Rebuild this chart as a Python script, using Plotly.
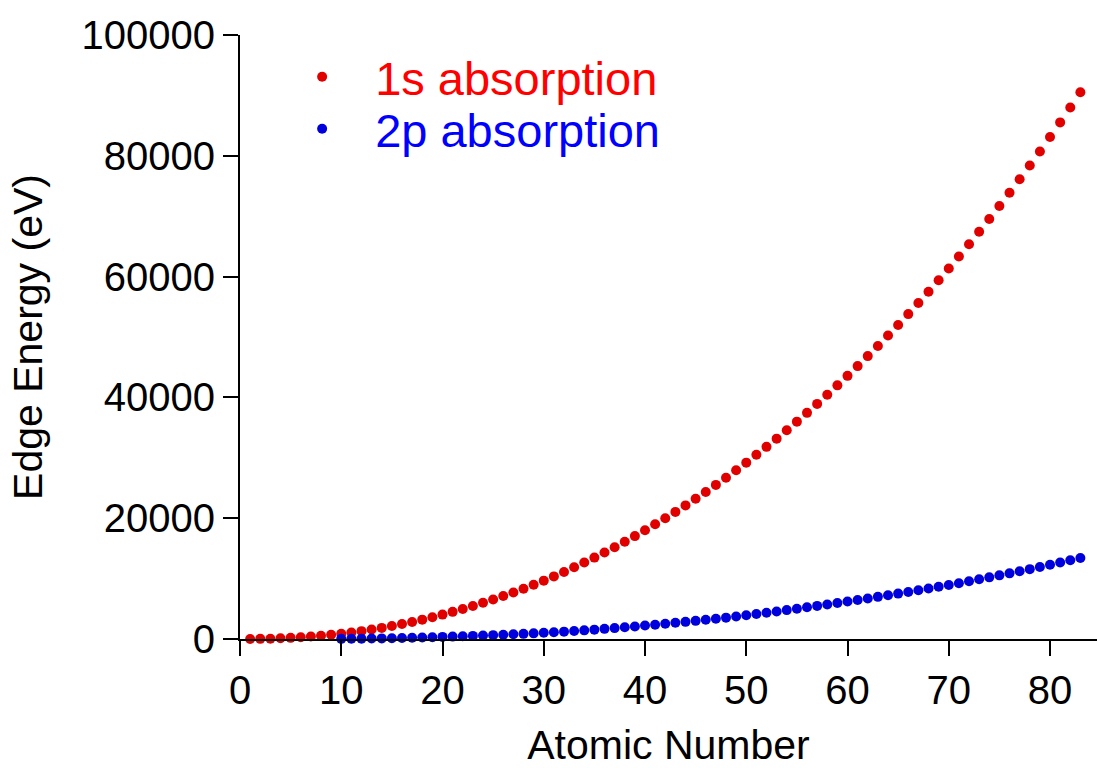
import plotly.graph_objects as go

# K-shell (1s) absorption edge energies, Z = 1 .. 83 (eV)
z_1s = list(range(1, 84))
e_1s = [
    13.6, 24.6, 54.7, 111.5, 188, 284.2, 409.9, 543.1, 696.7, 870.2,
    1070.8, 1303.0, 1559.6, 1839, 2145.5, 2472, 2822.4, 3205.9, 3608.4, 4038.5,
    4492, 4966, 5465, 5989, 6539, 7112, 7709, 8333, 8979, 9659,
    10367, 11103, 11867, 12658, 13474, 14326, 15200, 16105, 17038, 17998,
    18986, 20000, 21044, 22117, 23220, 24350, 25514, 26711, 27940, 29200,
    30491, 31814, 33169, 34561, 35985, 37441, 38925, 40443, 41991, 43569,
    45184, 46834, 48519, 50239, 51996, 53789, 55618, 57486, 59390, 61332,
    63314, 65351, 67416, 69525, 71676, 73871, 76111, 78395, 80725, 83102,
    85530, 88005, 90526,
]

# L3-shell (2p) absorption edge energies, Z = 10 .. 83 (eV)
z_2p = list(range(10, 84))
e_2p = [
    21.6, 30.65, 49.78, 72.55, 99.42, 135, 162.5, 200, 248.4, 294.6,
    346.2, 398.7, 453.8, 512.1, 574.1, 638.7, 706.8, 778.1, 852.7, 932.7,
    1021.8, 1116.4, 1217, 1323.6, 1433.9, 1550, 1678.4, 1804, 1940, 2080,
    2222.3, 2370.5, 2520.2, 2677, 2837.9, 3004, 3173.3, 3351.1, 3537.5, 3730.1,
    3928.8, 4132.2, 4341.4, 4557.1, 4786.4, 5012, 5247, 5483, 5723, 5964,
    6208, 6459, 6716, 6977, 7243, 7514, 7790, 8071, 8358, 8648,
    8944, 9244, 9561, 9881, 10207, 10535, 10871, 11215, 11564, 11919,
    12284, 12658, 13035, 13419,
]

x_ticks = [0, 10, 20, 30, 40, 50, 60, 70, 80]
y_ticks = [0, 20000, 40000, 60000, 80000, 100000]
y_tick_labels = ["0", "20000", "40000", "60000", "80000", "100000"]

FONT = "Liberation Sans, Arial, sans-serif"

fig = go.Figure()
fig.add_trace(go.Scatter(
    x=z_1s, y=e_1s, mode="markers", name="1s absorption",
    marker=dict(size=10, color="#E00000"), cliponaxis=False,
    legend="legend",
))
fig.add_trace(go.Scatter(
    x=z_2p, y=e_2p, mode="markers", name="2p absorption",
    marker=dict(size=10, color="#0000DD"), cliponaxis=False,
    legend="legend2",
))

axis_common = dict(
    showline=True, linecolor="black", linewidth=2,
    ticks="outside", ticklen=15, tickwidth=2, tickcolor="black",
    showgrid=False, zeroline=False,
    tickfont=dict(family=FONT, size=40, color="black"),
)

fig.update_layout(
    width=1097, height=768,
    margin=dict(l=240, r=0, t=35, b=129),
    paper_bgcolor="white", plot_bgcolor="white",
    font=dict(family=FONT, color="black"),
    xaxis=dict(
        range=[0, 84.64], tickvals=x_ticks,
        title=dict(text="Atomic Number", font=dict(family=FONT, size=41), standoff=25),
        **axis_common,
    ),
    yaxis=dict(
        range=[0, 100000], tickvals=y_ticks, ticktext=y_tick_labels,
        title=dict(text="Edge Energy (eV)", font=dict(family=FONT, size=41), standoff=26),
        **axis_common,
    ),
    legend=dict(
        x=0.034, y=0.930, xanchor="left", yanchor="middle",
        font=dict(family=FONT, size=47, color="#FF0000"),
        itemwidth=96, bgcolor="rgba(0,0,0,0)", borderwidth=0,
    ),
    legend2=dict(
        x=0.034, y=0.844, xanchor="left", yanchor="middle",
        font=dict(family=FONT, size=47, color="#0000FF"),
        itemwidth=96, bgcolor="rgba(0,0,0,0)", borderwidth=0,
    ),
    showlegend=True,
)

fig.write_html("out.html")
